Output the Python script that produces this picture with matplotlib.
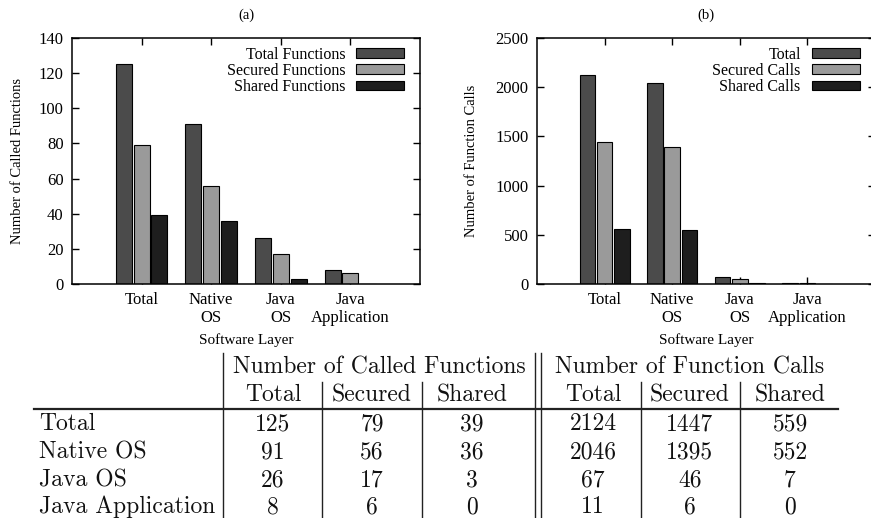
import matplotlib
matplotlib.use("Agg")
import matplotlib.pyplot as plt
import numpy as np

layers = ["Total", "Native\nOS", "Java\nOS", "Java\nApplication"]
row_names = ["Total", "Native OS", "Java OS", "Java Application"]

total_funcs = [125, 91, 26, 8]
secured_funcs = [79, 56, 17, 6]
shared_funcs = [39, 36, 3, 0]

total_calls = [2124, 2046, 67, 11]
secured_calls = [1447, 1395, 46, 6]
shared_calls = [559, 552, 7, 0]

colors = ["#4b4b4b", "#9a9a9a", "#1e1e1e"]

plt.rcParams["font.family"] = ["Liberation Serif", "DejaVu Serif"]
plt.rcParams["xtick.direction"] = "in"
plt.rcParams["ytick.direction"] = "in"

fig = plt.figure(figsize=(8.71, 5.18), dpi=100)
W, H = 871, 518


def bar_panel(rect, series, labels, ylim, ystep, ylabel, title, ylab_x):
    ax = fig.add_axes(rect)
    x = np.arange(len(layers))
    for i, (vals, lab) in enumerate(zip(series, labels)):
        ax.bar(x + (i - 1) * 0.255, vals, width=0.23, color=colors[i],
               edgecolor="black", linewidth=0.8, label=lab, zorder=2)
    ax.set_xlim(-1, 4)
    ax.set_ylim(*ylim)
    ax.set_yticks(np.arange(ylim[0], ylim[1] + 1, ystep))
    ax.set_xticks(x)
    ax.set_xticklabels(layers, fontsize=12, linespacing=1.1)
    ax.tick_params(axis="y", labelsize=12, pad=6, length=5, width=1,
                   left=True, right=True)
    ax.tick_params(axis="x", pad=6, length=5, width=1, top=True, bottom=True)
    for s in ax.spines.values():
        s.set_linewidth(1.1)
    ax.set_ylabel(ylabel, fontsize=10.5)
    ax.yaxis.set_label_coords(ylab_x, 0.5)
    ax.set_xlabel("Software Layer", fontsize=11)
    ax.xaxis.set_label_coords(0.5, -0.2)
    ax.set_title(title, fontsize=10.5, pad=14)
    ax.legend(loc="upper right", bbox_to_anchor=(0.955, 0.965), frameon=False,
              markerfirst=False, fontsize=11.5, labelspacing=0.02,
              handlelength=3.0, handleheight=0.55, handletextpad=0.7,
              borderpad=0, borderaxespad=0)
    return ax


bottom = (H - 284) / H
height = (284 - 38) / H
bar_panel([72 / W, bottom, 348 / W, height],
          [total_funcs, secured_funcs, shared_funcs],
          ["Total Functions", "Secured Functions", "Shared Functions"],
          (0, 140), 20, "Number of Called Functions", "(a)", -0.138)
bar_panel([537 / W, bottom, 338 / W, height],
          [total_calls, secured_calls, shared_calls],
          ["Total", "Secured Calls", "Shared Calls"],
          (0, 2500), 500, "Number of Function Calls", "(b)", -0.175)

# table drawn in pixel coordinates
tx = fig.add_axes([0, 0, 1, 1], facecolor="none")
tx.set_xlim(0, W)
tx.set_ylim(H, 0)
tx.axis("off")

tfont = dict(family="cmr10", fontsize=17, color="#111111")
col_x = [273, 372, 472, 593, 690, 790]
sub_heads = ["Total", "Secured", "Shared", "Total", "Secured", "Shared"]
row_y = [424, 452, 480, 507]

tx.text(379, 367, "Number of Called Functions", ha="center", va="center", **tfont)
tx.text(690, 367, "Number of Function Calls", ha="center", va="center", **tfont)
for cx, h in zip(col_x, sub_heads):
    tx.text(cx, 395, h, ha="center", va="center", **tfont)

table_cols = [total_funcs, secured_funcs, shared_funcs,
              total_calls, secured_calls, shared_calls]
for r, (name, ry) in enumerate(zip(row_names, row_y)):
    tx.text(39, ry, name, ha="left", va="center", **tfont)
    for cx, col in zip(col_x, table_cols):
        tx.text(cx, ry, str(col[r]), ha="center", va="center", **tfont)

lc = "#222222"
tx.plot([34, 838], [409, 409], color=lc, lw=1.6)
for vx in [223, 535, 541]:
    tx.plot([vx, vx], [353, 518], color=lc, lw=1.0)
for vx in [322, 422, 641, 740]:
    tx.plot([vx, vx], [382, 518], color=lc, lw=1.0)

fig.savefig("out.png", dpi=100)
